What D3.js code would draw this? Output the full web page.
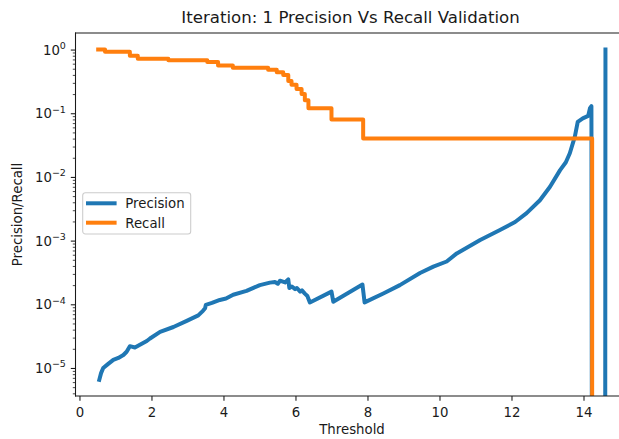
<!DOCTYPE html>
<html>
<head>
<meta charset="utf-8">
<script src="https://cdn.jsdelivr.net/npm/d3@7"></script>
<style>
  body { margin: 0; background: #fff; }
  svg { display: block; }
  text { font-family: "DejaVu Sans", sans-serif; fill: #1a1a1a; }
</style>
</head>
<body>
<svg id="chart" width="619" height="439"></svg>
<script>
// ---- data -------------------------------------------------------------
const titleText = "Iteration: 1 Precision Vs Recall Validation";
const xLabel = "Threshold";
const yLabel = "Precision/Recall";
const seriesNames = ["Precision", "Recall"];
const xTicks = [0, 2, 4, 6, 8, 10, 12, 14];
const yTickExponents = [0, -1, -2, -3, -4, -5];

const precisionThreshold = [0.55, 0.60, 0.66, 0.79, 0.94, 1.08, 1.22, 1.31, 1.40, 1.54,
  1.73, 1.87, 1.96, 2.24, 2.61, 2.98, 3.30, 3.43, 3.49, 3.51,
  3.68, 3.90, 4.07, 4.27, 4.64, 5.01, 5.29, 5.43, 5.51, 5.57,
  5.71, 5.80, 5.83, 5.90, 5.99, 6.04, 6.13, 6.18, 6.26, 6.33,
  6.40, 7.00, 7.05, 7.86, 7.92, 8.44, 8.90, 9.46, 9.83, 10.20,
  10.48, 11.13, 11.68, 12.10, 12.42, 12.79, 13.07, 13.35, 13.51, 13.62,
  13.76, 13.84, 13.98, 14.13, 14.18, 14.22, 14.24, 14.60, 14.61];
const precisionValue = [6.5e-6, 8.3e-6, 1.0e-5, 1.15e-5, 1.34e-5, 1.44e-5, 1.6e-5, 1.8e-5, 2.2e-5, 2.1e-5,
  2.4e-5, 2.65e-5, 2.9e-5, 3.7e-5, 4.4e-5, 5.5e-5, 6.7e-5, 7.9e-5, 8.7e-5, 9.8e-5,
  1.05e-4, 1.17e-4, 1.23e-4, 1.41e-4, 1.62e-4, 2.0e-4, 2.19e-4, 2.24e-4, 2.1e-4, 2.35e-4,
  2.2e-4, 2.46e-4, 1.8e-4, 1.9e-4, 1.73e-4, 1.8e-4, 1.58e-4, 1.65e-4, 1.47e-4, 1.35e-4,
  1.07e-4, 1.58e-4, 1.1e-4, 2.04e-4, 1.07e-4, 1.48e-4, 2.0e-4, 3.1e-4, 3.9e-4, 4.7e-4,
  6.3e-4, 1.02e-3, 1.47e-3, 1.96e-3, 2.7e-3, 4.3e-3, 7.0e-3, 1.28e-2, 1.7e-2, 2.35e-2,
  4.3e-2, 7.3e-2, 8.3e-2, 9.1e-2, 0.12, 0.129, 0, 0, 1.0];

const recallThreshold = [0.52, 0.71, 1.40, 1.62, 2.47, 3.55, 3.85, 4.26, 5.24, 5.48,
  5.66, 5.80, 5.89, 6.03, 6.17, 6.26, 6.36, 7.00, 7.88, 14.24, 14.61];
const recallValue = [1.0, 0.92, 0.80, 0.72, 0.68, 0.64, 0.56, 0.52, 0.48, 0.44,
  0.40, 0.32, 0.28, 0.24, 0.20, 0.16, 0.12, 0.08, 0.04, 0, 0];

// ---- layout -----------------------------------------------------------
const colors = ["#1f77b4", "#ff7f0e"];
const fontSize = 13.3;
const plot = { left: 75.5, right: 630.3, top: 33, bottom: 396 };

const svg = d3.select("#chart");

const x = d3.scaleLinear().domain([-0.11, 15.3]).range([plot.left, plot.right]);
const y = d3.scaleLog().domain([Math.pow(10, -5.44), Math.pow(10, 0.26)]).range([plot.bottom, plot.top]);

// zero values sit far below the visible range and are clipped away
const floorValue = 1e-9;
const yv = v => y(Math.max(v, floorValue));

svg.append("defs").append("clipPath").attr("id", "plot-clip")
  .append("rect")
  .attr("x", plot.left).attr("y", plot.top)
  .attr("width", plot.right - plot.left).attr("height", plot.bottom - plot.top);

// ---- series -----------------------------------------------------------
const precisionPts = precisionThreshold.map((t, i) => [t, precisionValue[i]]);
const recallPts = recallThreshold.map((t, i) => [t, recallValue[i]]);

const lineLinear = d3.line().x(d => x(d[0])).y(d => yv(d[1]));
const lineStep = d3.line().x(d => x(d[0])).y(d => yv(d[1])).curve(d3.curveStepAfter);

const lines = svg.append("g").attr("clip-path", "url(#plot-clip)");
lines.append("path").datum(precisionPts)
  .attr("d", lineLinear)
  .attr("fill", "none").attr("stroke", colors[0]).attr("stroke-width", 4)
  .attr("stroke-linejoin", "round").attr("stroke-linecap", "square");
lines.append("path").datum(recallPts)
  .attr("d", lineStep)
  .attr("fill", "none").attr("stroke", colors[1]).attr("stroke-width", 4)
  .attr("stroke-linejoin", "round").attr("stroke-linecap", "square");

// ---- axes -------------------------------------------------------------
const xAxis = d3.axisBottom(x).tickValues(xTicks).tickSize(4.7).tickPadding(4.7)
  .tickFormat(d3.format("d"));
const gx = svg.append("g").attr("transform", `translate(0,${plot.bottom})`).call(xAxis);
gx.select(".domain").remove();
gx.selectAll(".tick line").attr("stroke", "#1a1a1a").attr("stroke-width", 1.07);
gx.selectAll(".tick text").attr("font-size", fontSize).attr("font-family", "DejaVu Sans")
  .attr("fill", "#1a1a1a").attr("dy", null).attr("y", 21);

// major decade ticks with mathtext-like labels
const majorVals = yTickExponents.map(e => Math.pow(10, e));
const yMajor = d3.axisLeft(y).tickValues(majorVals).tickSize(4.7).tickFormat("");
const gy = svg.append("g").attr("transform", `translate(${plot.left},0)`).call(yMajor);
gy.select(".domain").remove();
gy.selectAll(".tick line").attr("stroke", "#1a1a1a").attr("stroke-width", 1.07);

// minor ticks between the decades
const [ylo, yhi] = y.domain();
const minorVals = [];
for (let e = -6; e <= 0; e++) {
  for (let m = 2; m <= 9; m++) {
    const v = m * Math.pow(10, e);
    if (v >= ylo && v <= yhi) minorVals.push(v);
  }
}
const yMinor = d3.axisLeft(y).tickValues(minorVals).tickSize(2.7).tickFormat("");
const gym = svg.append("g").attr("transform", `translate(${plot.left},0)`).call(yMinor);
gym.select(".domain").remove();
gym.selectAll(".tick line").attr("stroke", "#1a1a1a").attr("stroke-width", 0.8);

const yLabels = svg.append("g");
yTickExponents.forEach(e => {
  const t = yLabels.append("text")
    .attr("x", plot.left - 9.6)
    .attr("y", y(Math.pow(10, e)) + 5)
    .attr("text-anchor", "end")
    .attr("font-size", fontSize);
  t.append("tspan").text("10");
  t.append("tspan").attr("font-size", 9.5).attr("dy", -5.5)
    .text(e === 0 ? "0" : "\u2212" + Math.abs(e));
});

// spines
const spines = svg.append("g").attr("stroke", "#1a1a1a").attr("stroke-width", 1.07)
  .attr("stroke-linecap", "square");
spines.append("line").attr("x1", plot.left).attr("x2", plot.left)
  .attr("y1", plot.top).attr("y2", plot.bottom);
spines.append("line").attr("x1", plot.left).attr("x2", plot.right)
  .attr("y1", plot.bottom).attr("y2", plot.bottom);
spines.append("line").attr("x1", plot.left).attr("x2", plot.right)
  .attr("y1", plot.top).attr("y2", plot.top);
spines.append("line").attr("x1", plot.right).attr("x2", plot.right)
  .attr("y1", plot.top).attr("y2", plot.bottom);

// ---- text -------------------------------------------------------------
const cx = (plot.left + plot.right) / 2;
svg.append("text").attr("x", 350.5).attr("y", 23)
  .attr("text-anchor", "middle").attr("font-size", 16.6).text(titleText);

svg.append("text").attr("x", 352).attr("y", 434)
  .attr("text-anchor", "middle").attr("font-size", fontSize).text(xLabel);

svg.append("text")
  .attr("transform", `translate(21.5,${(plot.top + plot.bottom) / 2}) rotate(-90)`)
  .attr("text-anchor", "middle").attr("font-size", fontSize).text(yLabel);

// ---- legend -----------------------------------------------------------
const legend = svg.append("g").attr("transform", "translate(82.7,192.7)");
legend.append("rect")
  .attr("width", 108).attr("height", 41.3).attr("rx", 2.7).attr("ry", 2.7)
  .attr("fill", "#fff").attr("fill-opacity", 0.8)
  .attr("stroke", "#cccccc").attr("stroke-width", 1.07);
seriesNames.forEach((name, i) => {
  const ly = 10.6 + i * 19.4;
  legend.append("line")
    .attr("x1", 5.3).attr("x2", 31.9).attr("y1", ly).attr("y2", ly)
    .attr("stroke", colors[i]).attr("stroke-width", 4).attr("stroke-linecap", "square");
  legend.append("text").attr("x", 42.6).attr("y", ly + 4.9)
    .attr("font-size", fontSize).text(name);
});
</script>
</body>
</html>
